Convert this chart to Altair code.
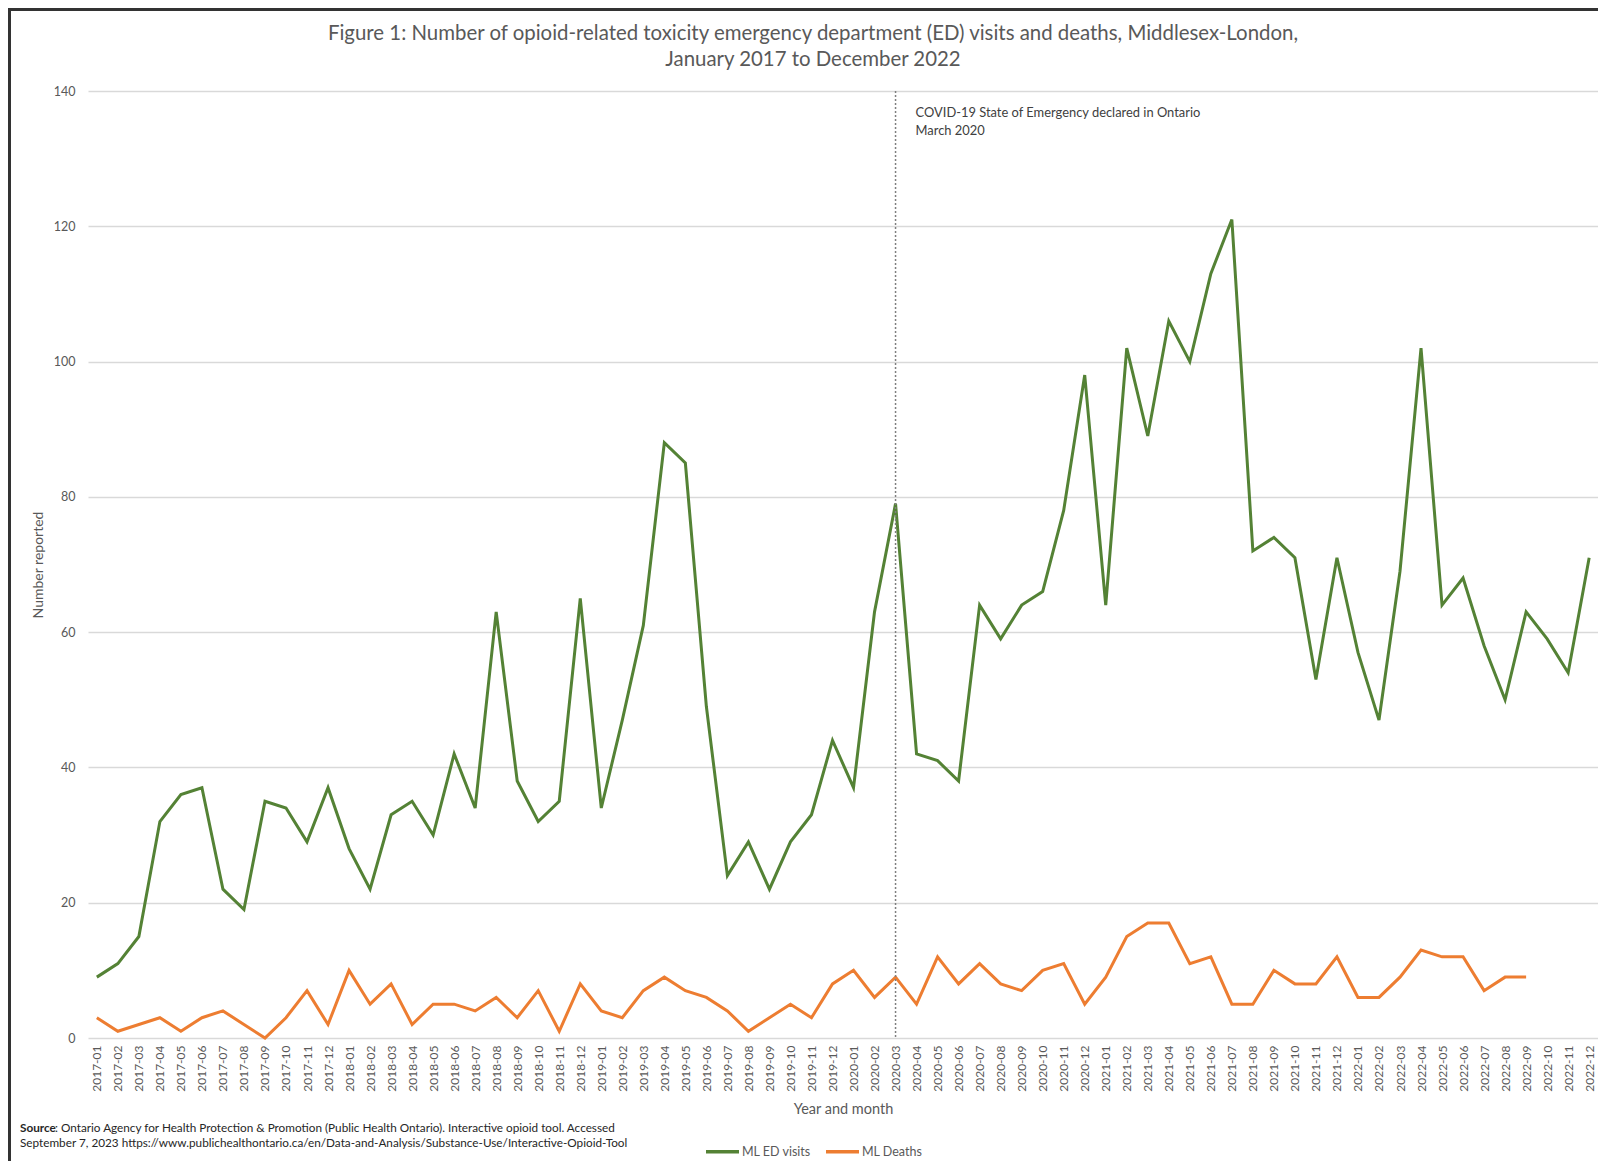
import altair as alt
import pandas as pd

months = [f"{y}-{m:02d}" for y in range(2017, 2023) for m in range(1, 13)]

ed_visits = [
    9, 11, 15, 32, 36, 37, 22, 19, 35, 34, 29, 37,
    28, 22, 33, 35, 30, 42, 34, 63, 38, 32, 35, 65,
    34, 47, 61, 88, 85, 49, 24, 29, 22, 29, 33, 44,
    37, 63, 79, 42, 41, 38, 64, 59, 64, 66, 78, 98,
    64, 102, 89, 106, 100, 113, 121, 72, 74, 71, 53, 71,
    57, 47, 69, 102, 64, 68, 58, 50, 63, 59, 54, 71,
]
deaths = [
    3, 1, 2, 3, 1, 3, 4, 2, 0, 3, 7, 2,
    10, 5, 8, 2, 5, 5, 4, 6, 3, 7, 1, 8,
    4, 3, 7, 9, 7, 6, 4, 1, 3, 5, 3, 8,
    10, 6, 9, 5, 12, 8, 11, 8, 7, 10, 11, 5,
    9, 15, 17, 17, 11, 12, 5, 5, 10, 8, 8, 12,
    6, 6, 9, 13, 12, 12, 7, 9, 9,
]
series_names = ["ML ED visits", "ML Deaths"]
series_colors = ["#548235", "#ED7D31"]
event_month = "2020-03"
event_text = ["COVID-19 State of Emergency declared in Ontario", "March 2020"]
title_lines = [
    "Figure 1: Number of opioid-related toxicity emergency department (ED) visits and deaths, Middlesex-London,",
    "January 2017 to December 2022",
]
source_bold = "Source"
source_rest = ": Ontario Agency for Health Protection & Promotion (Public Health Ontario). Interactive opioid tool. Accessed"
source_line2 = "September 7, 2023 https://www.publichealthontario.ca/en/Data-and-Analysis/Substance-Use/Interactive-Opioid-Tool"

rows = []
for m, v in zip(months, ed_visits):
    rows.append({"month": m, "value": v, "series": series_names[0]})
for m, v in zip(months, deaths):
    rows.append({"month": m, "value": v, "series": series_names[1]})
df = pd.DataFrame(rows)
event_df = pd.DataFrame({"month": [event_month]})

W, H = 1510, 947
PAD_L, PAD_T, PAD_B = 80, 83, 123
FONT = "Lato"
GRAY = "#595959"

x_scale = alt.Scale(domain=months, type="point", padding=0.42)

x_enc = alt.X(
    "month:O",
    scale=x_scale,
    axis=alt.Axis(
        title="Year and month",
        labelAngle=-90,
        labelFontSize=12,
        labelColor=GRAY,
        labelPadding=7,
        ticks=False,
        domain=False,
        grid=False,
        titleFontSize=14.5,
        titleFontWeight="normal",
        titleColor=GRAY,
        titlePadding=11,
    ),
)
y_enc = alt.Y(
    "value:Q",
    scale=alt.Scale(domain=[0, 140], nice=False),
    axis=alt.Axis(
        title="Number reported",
        values=list(range(0, 141, 20)),
        labelFontSize=12.5,
        labelColor=GRAY,
        labelPadding=13,
        ticks=False,
        domain=False,
        gridColor="#d9d9d9",
        gridWidth=1.5,
        titleFontSize=14,
        titleFontWeight="normal",
        titleColor=GRAY,
        titlePadding=8,
    ),
)

lines = alt.Chart(df).mark_line(strokeWidth=3).encode(
    x=x_enc,
    y=y_enc,
    color=alt.Color(
        "series:N",
        scale=alt.Scale(domain=series_names, range=series_colors),
        sort=series_names,
        legend=alt.Legend(
            title=None,
            orient="none",
            direction="horizontal",
            legendX=616,
            legendY=1042,
            symbolType="stroke",
            symbolSize=1089,
            symbolStrokeWidth=3.5,
            labelFontSize=12.5,
            labelColor=GRAY,
            labelOffset=1,
            columnPadding=8,
        ),
    ),
)

event_rule = alt.Chart(event_df).mark_rule(
    color="#7f7f7f", strokeDash=[2, 2], strokeWidth=1.5
).encode(x=alt.X("month:O", scale=x_scale))

event_label = alt.Chart(event_df).mark_text(
    align="left", baseline="top", dx=20, fontSize=12.9, lineHeight=17.5, color="#404040", font=FONT
).encode(x=alt.X("month:O", scale=x_scale), y=alt.value(16), text=alt.value(event_text))

title1 = alt.Chart(event_df).mark_text(
    align="center", baseline="middle", fontSize=20.4, color=GRAY, font=FONT
).encode(x=alt.value(725), y=alt.value(-57), text=alt.value(title_lines[0]))
title2 = alt.Chart(event_df).mark_text(
    align="center", baseline="middle", fontSize=20.4, color=GRAY, font=FONT
).encode(x=alt.value(725), y=alt.value(-31), text=alt.value(title_lines[1]))

src1 = alt.Chart(event_df).mark_text(
    align="left", baseline="middle", fontSize=11.75, fontWeight="bold", color="#262626", font=FONT
).encode(x=alt.value(-68), y=alt.value(1037), text=alt.value(source_bold))
src2 = alt.Chart(event_df).mark_text(
    align="left", baseline="middle", fontSize=11.75, color="#262626", font=FONT
).encode(x=alt.value(-33), y=alt.value(1037), text=alt.value(source_rest))
src3 = alt.Chart(event_df).mark_text(
    align="left", baseline="middle", fontSize=11.75, color="#262626", font=FONT
).encode(x=alt.value(-68), y=alt.value(1052), text=alt.value(source_line2))

border_top = alt.Chart(event_df).mark_rule(color="#333333", strokeWidth=3).encode(
    x=alt.value(-PAD_L), x2=alt.value(W + 2), y=alt.value(-PAD_T + 1.5)
)
border_left = alt.Chart(event_df).mark_rule(color="#333333", strokeWidth=3).encode(
    x=alt.value(-PAD_L + 1.5), y=alt.value(-PAD_T), y2=alt.value(H + PAD_B)
)

chart = (
    alt.layer(lines, event_rule, event_label, title1, title2, src1, src2, src3, border_top, border_left)
    .properties(
        width=W,
        height=H,
        autosize=alt.AutoSizeParams(type="none"),
        padding={"left": PAD_L, "top": PAD_T, "right": 0, "bottom": PAD_B},
    )
    .configure(font=FONT)
    .configure_view(stroke=None)
)

chart.save("out.html", embed_options={"renderer": "svg", "actions": False})
